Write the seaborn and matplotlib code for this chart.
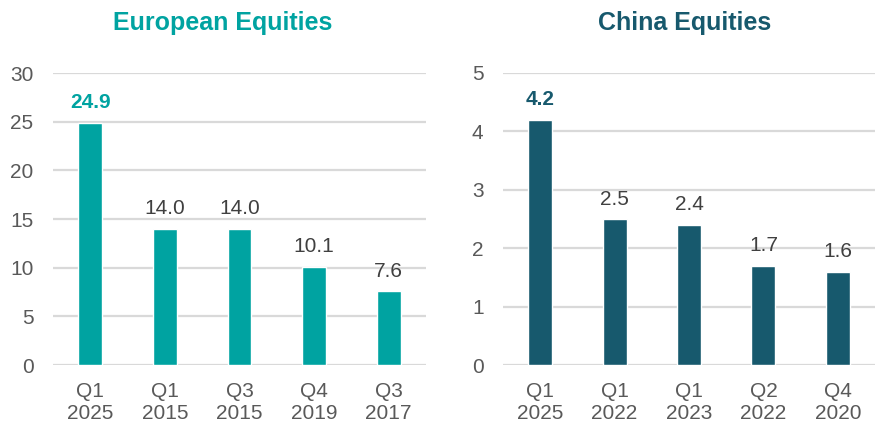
import matplotlib
matplotlib.use("Agg")
import matplotlib.pyplot as plt
import seaborn as sns
import pandas as pd

eu_labels = ["Q1\n2025", "Q1\n2015", "Q3\n2015", "Q4\n2019", "Q3\n2017"]
eu_values = [24.9, 14.0, 14.0, 10.1, 7.6]
cn_labels = ["Q1\n2025", "Q1\n2022", "Q1\n2023", "Q2\n2022", "Q4\n2020"]
cn_values = [4.2, 2.5, 2.4, 1.7, 1.6]

sns.set_theme(style="white")
plt.rcParams['font.family'] = ['Liberation Sans', 'DejaVu Sans']

fig = plt.figure(figsize=(8.75, 4.23), dpi=100)
teal = "#00A3A1"
dark = "#17596D"
grey = "#595959"

def draw(ax, labels, values, color, ylim, ticks, title, tx):
    df = pd.DataFrame({"q": labels, "v": values})
    sns.barplot(data=df, x="q", y="v", ax=ax, color=color, width=0.32, saturation=1)
    ax.set_ylim(*ylim)
    ax.set_yticks(ticks)
    ax.set_xlim(-0.5, 4.5)
    ax.set_xlabel("")
    ax.set_ylabel("")
    for s in ax.spines.values():
        s.set_visible(False)
    ax.grid(axis="y", color="#D9D9D9", linewidth=1.6)
    ax.set_axisbelow(True)
    ax.tick_params(axis="both", labelsize=15, colors=grey, length=0)
    ax.tick_params(axis="x", pad=12)
    ax.tick_params(axis="y", pad=14)
    for t in ax.get_xticklabels():
        t.set_linespacing(1.2)
    for i, v in enumerate(values):
        if i == 0:
            ax.annotate(f"{v:.1f}", (i, v), xytext=(0, 7.5), textcoords="offset points",
                        ha="center", va="bottom", fontsize=15, fontweight="bold", color=color)
        else:
            ax.annotate(f"{v:.1f}", (i, v), xytext=(0, 7.5), textcoords="offset points",
                        ha="center", va="bottom", fontsize=15, color="#404040")
    fig.text(tx, 1 - 23 / 423, title, ha="center", va="center", fontsize=18,
             fontweight="bold", color=color)

ax1 = fig.add_axes([53 / 875, 1 - 365 / 423, 373 / 875, 292 / 423])
ax2 = fig.add_axes([503 / 875, 1 - 365 / 423, 372 / 875, 292 / 423])
draw(ax1, eu_labels, eu_values, teal, (0, 30), range(0, 31, 5), "European Equities", 223 / 875)
draw(ax2, cn_labels, cn_values, dark, (0, 5), range(0, 6), "China Equities", 685 / 875)

fig.savefig("out.png", dpi=100)
